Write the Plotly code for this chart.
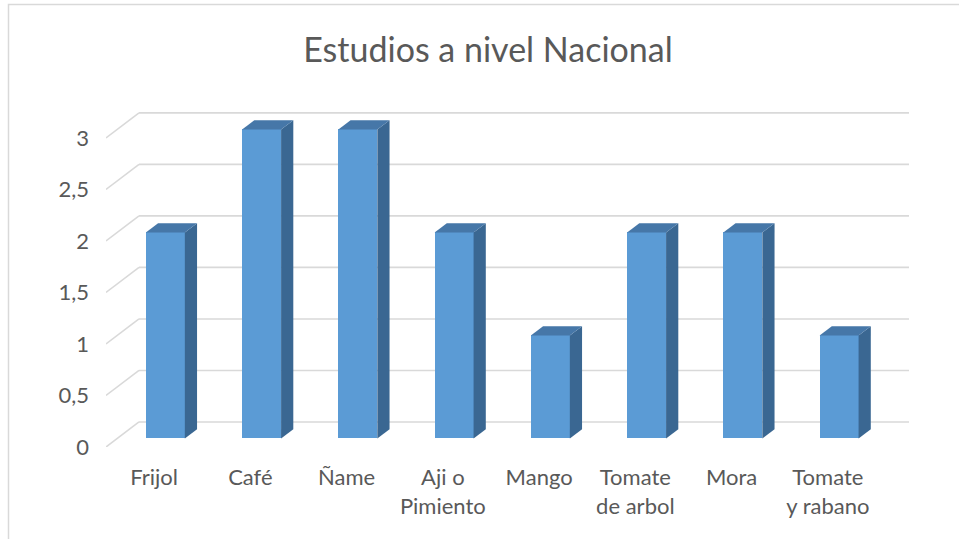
import plotly.graph_objects as go

categories = ["Frijol", "Café", "Ñame", "Aji o<br>Pimiento", "Mango", "Tomate<br>de arbol", "Mora", "Tomate<br>y rabano"]
values = [2, 3, 3, 2, 1, 2, 2, 1]
y_ticks = [0, 0.5, 1, 1.5, 2, 2.5, 3]
y_tick_labels = ["0", "0,5", "1", "1,5", "2", "2,5", "3"]

# oblique projection parameters (depth shift per unit depth, in axis units)
DX = 0.343
DY = 0.243
D0, D1 = 0.34, 0.71
W = 0.405

n = len(categories)
xs = list(range(n))

fig = go.Figure()

# front faces
fig.add_trace(go.Bar(x=[i + D0 * DX for i in xs], y=values, base=[D0 * DY] * n, width=W,
                     marker=dict(color="#5B9BD5", line=dict(width=0)), showlegend=False))

# side and top faces
for i, v in zip(xs, values):
    xl = i - W / 2
    xr = i + W / 2
    fig.add_trace(go.Scatter(
        x=[xr + D0 * DX, xr + D1 * DX, xr + D1 * DX, xr + D0 * DX, xr + D0 * DX],
        y=[D0 * DY, D1 * DY, v + D1 * DY, v + D0 * DY, D0 * DY],
        mode="lines", fill="toself", fillcolor="#3A6792", line=dict(width=0, color="#3A6792"),
        hoverinfo="skip", showlegend=False))
    fig.add_trace(go.Scatter(
        x=[xl + D0 * DX, xr + D0 * DX, xr + D1 * DX, xl + D1 * DX, xl + D0 * DX],
        y=[v + D0 * DY, v + D0 * DY, v + D1 * DY, v + D1 * DY, v + D0 * DY],
        mode="lines", fill="toself", fillcolor="#4677A8", line=dict(width=0, color="#4677A8"),
        hoverinfo="skip", showlegend=False))

L, R, T, B = 106, 50, 107, 92
pw = 959 - L - R
ph = 539 - T - B

shapes = []
# back wall gridlines + left wall diagonals (below the bars)
for v in y_ticks:
    shapes.append(dict(type="line", xref="x", yref="y", x0=-0.5, y0=v, x1=-0.5 + DX, y1=v + DY,
                       line=dict(color="#D9D9D9", width=1.6), layer="below"))
    shapes.append(dict(type="line", xref="x", yref="y", x0=-0.5 + DX, y0=v + DY, x1=n - 0.5 + DX, y1=v + DY,
                       line=dict(color="#D9D9D9", width=1.6), layer="below"))
# chart border
shapes.append(dict(type="rect", xref="paper", yref="paper",
                   x0=(8.5 - L) / pw, x1=(980 - L) / pw,
                   y0=(447 - 560) / ph, y1=(447 - 4.5) / ph,
                   line=dict(color="#D9D9D9", width=1.5), fillcolor="rgba(0,0,0,0)", layer="below"))

fig.update_layout(
    width=959, height=539,
    margin=dict(l=L, r=R, t=T, b=B, autoexpand=False),
    paper_bgcolor="white", plot_bgcolor="white",
    font=dict(family="Lato", color="#595959", size=22),
    title=dict(text="Estudios a nivel Nacional", x=488 / 959, xref="container", xanchor="center",
               y=1 - 50 / 539, yref="container", yanchor="middle",
               font=dict(size=34, color="#595959", family="Lato")),
    xaxis=dict(range=[-0.5, n - 0.5 + DX], tickmode="array", tickvals=xs, ticktext=categories,
               showgrid=False, zeroline=False, showline=False, ticks="", fixedrange=True,
               tickangle=0, ticklabelstandoff=15),
    yaxis=dict(range=[0, 3.3], tickmode="array", tickvals=y_ticks, ticktext=y_tick_labels,
               showgrid=False, zeroline=False, showline=False, ticks="", ticklabelstandoff=16,
               fixedrange=True),
    bargap=0,
    shapes=shapes,
)

fig.write_html("out.html")
